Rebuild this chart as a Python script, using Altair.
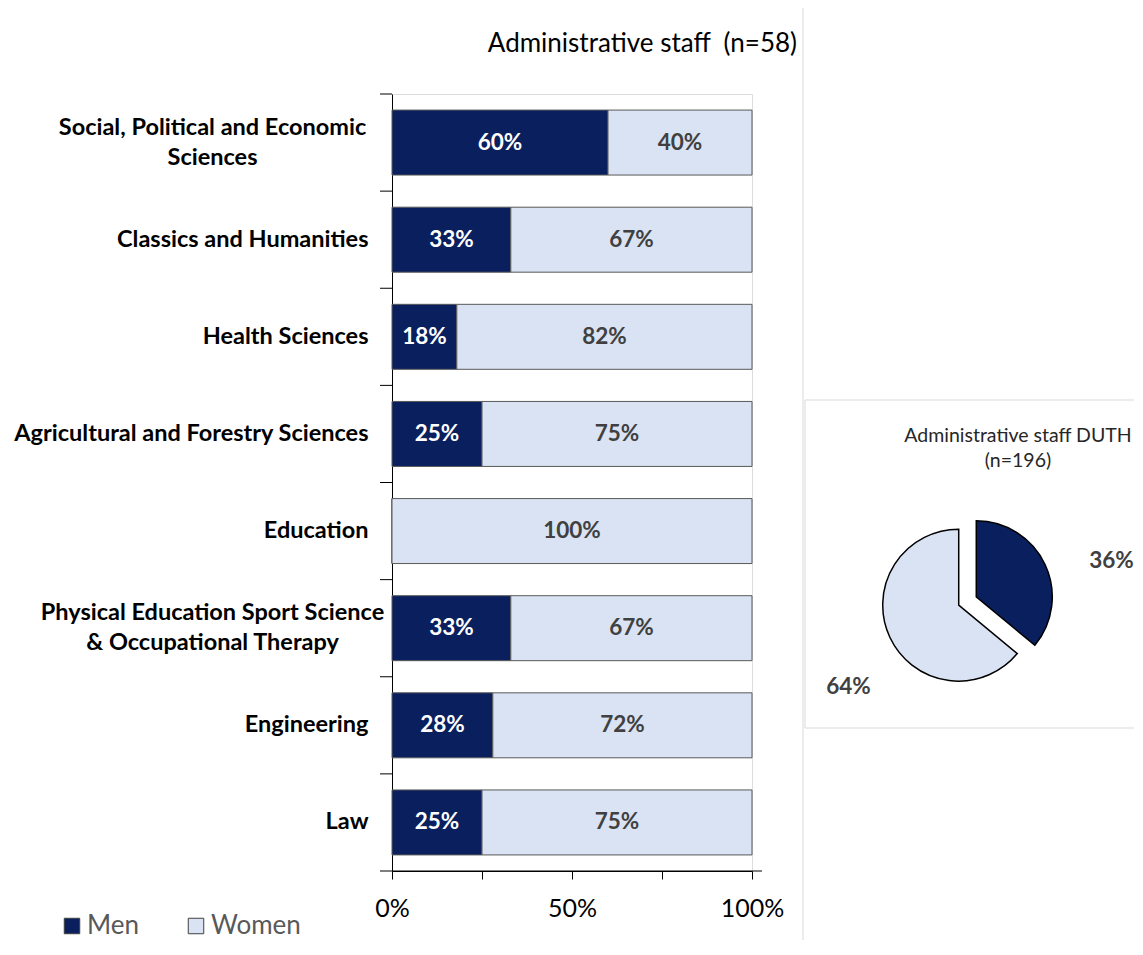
import math
import altair as alt
import pandas as pd

# ---------------- data ----------------
categories = [
    "Social, Political and Economic Sciences",
    "Classics and Humanities",
    "Health Sciences",
    "Agricultural and Forestry Sciences",
    "Education",
    "Physical Education Sport Science & Occupational Therapy",
    "Engineering",
    "Law",
]
men = [60, 33, 18, 25, 0, 33, 28, 25]
women = [40, 67, 82, 75, 100, 67, 72, 75]
genders = ["Men", "Women"]
pie_values = [36, 64]
bar_title = ["Administrative staff \u00a0(n=58)"]
pie_title = ["Administrative staff DUTH", "(n=196)"]
x_ticks = [0, 25, 50, 75, 100]

NAVY = "#0A1F5E"
LIGHT = "#DAE3F3"
FONT = "Lato"

W, H = 360, 777
STEP = H / len(categories)

rows = []
for c, m, w in zip(categories, men, women):
    for i, (g, v) in enumerate(zip(genders, [m, w])):
        rows.append({"category": c, "gender": g, "order": i, "value": v})
bars_df = pd.DataFrame(rows)
pie_df = pd.DataFrame({"gender": genders, "order": [0, 1], "value": pie_values})
cat_df = pd.DataFrame({"category": categories})
one = pd.DataFrame({"k": [0]})

color_scale = alt.Scale(domain=genders, range=[NAVY, LIGHT])
legend = alt.Legend(
    orient="none", legendX=-333, legendY=819, direction="horizontal", title=None,
    symbolType="square", symbolSize=240, symbolStrokeColor="#404040",
    symbolStrokeWidth=1, symbolOpacity=1, labelFontSize=26, labelColor="#595959",
    labelFont=FONT, labelOffset=2, columnPadding=44,
)

multi = (
    "datum.value == 'Social, Political and Economic Sciences' || "
    "datum.value == 'Physical Education Sport Science & Occupational Therapy'"
)
label_expr = (
    "datum.label == 'Social, Political and Economic Sciences' ? "
    "['Social, Political and Economic', 'Sciences'] : "
    "datum.label == 'Physical Education Sport Science & Occupational Therapy' ? "
    "['Physical Education Sport Science', '& Occupational Therapy'] : datum.label"
)

y_enc = alt.Y(
    "category:N", sort=categories,
    scale=alt.Scale(paddingInner=0.331, paddingOuter=0.1655),
    axis=alt.Axis(
        title=None, ticks=False, tickSize=0,
        labelPadding={"condition": {"test": multi, "value": 180}, "value": 24},
        labelAlign={"condition": {"test": multi, "value": "center"}, "value": "right"},
        labelOffset={"condition": {"test": multi, "value": -15}, "value": 0},
        labelFontSize=23.5, labelFontWeight="bold", labelColor="black", labelFont=FONT,
        labelLimit=0, labelLineHeight=30, domainColor="black", domainWidth=1,
        labelExpr=label_expr,
    ),
)

x_scale = alt.Scale(domain=[0, 100], nice=False, zero=True)

bar_base = (
    alt.Chart(bars_df)
    .transform_window(end="sum(value)", groupby=["category"],
                      sort=[alt.SortField("order")], frame=[None, 0])
    .transform_calculate(start="datum.end - datum.value",
                         mid="datum.end - datum.value / 2",
                         label="datum.value + '%'")
)

bars = bar_base.mark_bar(stroke="#595959", strokeWidth=1).encode(
    x=alt.X(
        "start:Q", scale=x_scale,
        axis=alt.Axis(
            title=None, values=x_ticks, grid=False, tickSize=8, tickColor="black",
            domainColor="black", labelFontSize=25, labelColor="black", labelFont=FONT,
            labelPadding=17, labelFlush=False,
            labelExpr="datum.value % 50 == 0 ? datum.value + '%' : ''",
        ),
    ),
    x2="end:Q",
    y=y_enc,
    color=alt.Color("gender:N", scale=color_scale, legend=legend),
)

bar_text = bar_base.transform_filter("datum.value > 0").mark_text(
    font=FONT, fontSize=22.5, fontWeight="bold", baseline="middle"
).encode(
    x=alt.X("mid:Q", scale=x_scale),
    y=alt.Y("category:N", sort=categories),
    text="label:N",
    color=alt.condition(alt.datum.gender == "Men", alt.value("white"), alt.value("#404040")),
)

yticks_top = alt.Chart(cat_df).mark_rule(color="black", strokeWidth=1, yOffset=-STEP / 2).encode(
    y=alt.Y("category:N", sort=categories), x=alt.value(-12), x2=alt.value(0)
)
ytick_bottom = (
    alt.Chart(cat_df)
    .transform_filter(alt.datum.category == categories[-1])
    .mark_rule(color="black", strokeWidth=1, yOffset=STEP / 2)
    .encode(y=alt.Y("category:N", sort=categories), x=alt.value(-12), x2=alt.value(10 + W))
)

divider = alt.Chart(one).mark_rule(color="#d9d9d9", strokeWidth=1).encode(
    x=alt.value(411), y=alt.value(-86), y2=alt.value(860)
)
box = alt.Chart(one).mark_rect(fillOpacity=0, stroke="#d9d9d9", strokeWidth=1).encode(
    x=alt.value(413), x2=alt.value(760), y=alt.value(306), y2=alt.value(634)
)

title_bar = alt.Chart(one).mark_text(
    text=bar_title[0], font=FONT, fontSize=26, color="black", align="right", baseline="middle"
).encode(x=alt.value(405), y=alt.value(-50.5))

title_pie = alt.Chart(one).mark_text(
    text=pie_title, font=FONT, fontSize=19.5, color="#262626", align="center",
    baseline="middle", lineHeight=25
).encode(x=alt.value(626), y=alt.value(342))

# ---------------- pie ----------------
CX, CY, R, EXPLODE = 575.5, 507, 76, 9.7
theta_scale = alt.Scale(domain=[0, 100], range=[0, 2 * math.pi])
pie_base = (
    alt.Chart(pie_df)
    .transform_window(end="sum(value)", sort=[alt.SortField("order")], frame=[None, 0])
    .transform_calculate(start="datum.end - datum.value",
                         mid="datum.end - datum.value / 2",
                         label="datum.value + '%'")
)

total = sum(pie_values)
label_adjust = {"Men": (158, 1, 27), "Women": (142, 9.5, 26)}
pie_layers = []
cum = 0
for g, v in zip(genders, pie_values):
    a = 2 * math.pi * (cum + v / 2) / total
    cum += v
    ox, oy = EXPLODE * math.sin(a), -EXPLODE * math.cos(a)
    pie_layers.append(
        pie_base.transform_filter(alt.datum.gender == g)
        .mark_arc(radius=R, stroke="black", strokeWidth=1.5)
        .encode(
            theta=alt.Theta("start:Q", scale=theta_scale),
            theta2="end:Q",
            color=alt.Color("gender:N", scale=color_scale, legend=legend),
            x=alt.value(CX + ox), y=alt.value(CY + oy),
        )
    )
    rad, ddx, ddy = label_adjust[g]
    pie_layers.append(
        pie_base.transform_filter(alt.datum.gender == g)
        .mark_text(radius=rad, dx=ddx, dy=ddy, font=FONT, fontSize=22.5, fontWeight="bold",
                   color="#404040", baseline="middle", align="center")
        .encode(
            theta=alt.Theta("mid:Q", scale=theta_scale),
            text="label:N",
            x=alt.value(CX), y=alt.value(CY),
        )
    )

chart = (
    alt.layer(divider, box, bars, bar_text, yticks_top, ytick_bottom, title_bar, title_pie, *pie_layers)
    .properties(
        width=W, height=H,
        autosize=alt.AutoSizeParams(type="none"),
        padding={"left": 384, "top": 86, "right": 382, "bottom": 69},
    )
    .configure_view(stroke=None)
    .configure(background="white")
)

chart.save("out.html", embed_options={"renderer": "svg", "actions": False})
